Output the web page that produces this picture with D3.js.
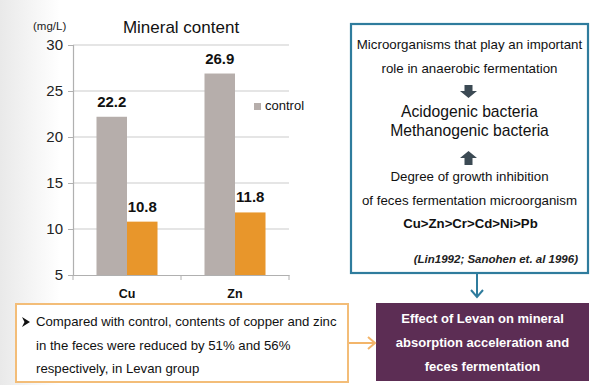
<!DOCTYPE html>
<html lang="en">
<head>
    <meta charset="UTF-8">
    <title>Mineral content</title>
    <script src="https://d3js.org/d3.v7.min.js"></script>
    <style>
        html, body { margin: 0; padding: 0; background: #fff; }
        svg { display: block; font-family: "Liberation Sans", Arial, sans-serif; }
    </style>
</head>
<body>
<svg id="main" width="600" height="385"></svg>

<script>
    // chart data
    const categories = ['Cu', 'Zn'];
    const seriesNames = ['control', 'Levan'];
    const controlValues = [22.2, 26.9];
    const levanValues = [10.8, 11.8];
    const yTicks = [5, 10, 15, 20, 25, 30];

    // side panel texts
    const rightLines = ['Microorganisms that play an important', 'role in anaerobic fermentation'];
    const bacteriaLines = ['Acidogenic bacteria', 'Methanogenic bacteria'];
    const inhibitionLines = ['Degree of growth inhibition', 'of feces fermentation microorganism'];
    const orderText = 'Cu>Zn>Cr>Cd>Ni>Pb';
    const refText = '(Lin1992; Sanohen et. al 1996)';
    const noteLines = ['Compared with control, contents of copper and zinc',
        'in the feces were reduced by 51% and 56%',
        'respectively, in Levan group'];
    const effectLines = ['Effect of Levan on mineral', 'absorption acceleration and', 'feces fermentation'];

    const colors = {control: '#b6aeab', Levan: '#e8962b'};

    let svg = d3.select('svg#main');

    // soft grey edge on the left like the slide background
    let defs = svg.append('defs');
    let grad = defs.append('linearGradient').attr('id', 'bg').attr('x1', 0).attr('x2', 1);
    grad.append('stop').attr('offset', 0).attr('stop-color', '#e9e9e9');
    grad.append('stop').attr('offset', 0.1).attr('stop-color', '#ffffff');
    grad.append('stop').attr('offset', 1).attr('stop-color', '#ffffff');
    svg.append('rect').attr('width', 600).attr('height', 385).attr('fill', 'url(#bg)');

    // scales
    let x = d3.scaleBand().domain(categories).range([73, 289]);
    let x1 = d3.scaleBand().domain(seriesNames).range([0, x.bandwidth()]).paddingOuter(0.77);
    let y = d3.scaleLinear().domain([5, 30]).range([275, 45]);

    // gridlines
    svg.append('g').selectAll('line')
        .data(yTicks.slice(1))
        .enter().append('line')
        .attr('x1', 73).attr('x2', 289)
        .attr('y1', d => y(d)).attr('y2', d => y(d))
        .attr('stroke', '#cbcbcb').attr('stroke-width', 1.2);

    // y axis
    let yAxis = svg.append('g')
        .attr('transform', 'translate(73,0)')
        .call(d3.axisLeft(y).tickValues(yTicks).tickSize(5).tickPadding(5));
    yAxis.select('.domain').attr('stroke', '#b0b0b0').attr('stroke-width', 1.2);
    yAxis.selectAll('.tick line').attr('stroke', '#b0b0b0');
    yAxis.selectAll('.tick text')
        .attr('font-size', 15).attr('fill', '#222')
        .attr('font-family', '"Liberation Sans", Arial, sans-serif');

    // x axis
    let xAxis = svg.append('g')
        .attr('transform', 'translate(0,275)')
        .call(d3.axisBottom(x).tickSize(0).tickFormat(''));
    xAxis.select('.domain').attr('stroke', '#b0b0b0').attr('stroke-width', 1.2);
    // category boundary ticks
    svg.append('g').selectAll('line')
        .data([0, 1, 2])
        .enter().append('line')
        .attr('x1', i => x.range()[0] + i * x.step())
        .attr('x2', i => x.range()[0] + i * x.step())
        .attr('y1', 275).attr('y2', 280)
        .attr('stroke', '#b0b0b0');
    svg.append('g').selectAll('text')
        .data(categories)
        .enter().append('text')
        .attr('x', d => x(d) + x.bandwidth() / 2)
        .attr('y', 298)
        .attr('text-anchor', 'middle')
        .attr('font-size', 12.5).attr('font-weight', 'bold').attr('fill', '#111')
        .text(d => d);

    // bars
    let rows = categories.map((c, i) => ({cat: c, control: controlValues[i], Levan: levanValues[i]}));
    let groups = svg.append('g').selectAll('g')
        .data(rows)
        .enter().append('g')
        .attr('transform', d => 'translate(' + x(d.cat) + ',0)');
    groups.selectAll('rect')
        .data(d => seriesNames.map(s => ({s: s, v: d[s]})))
        .enter().append('rect')
        .attr('x', d => x1(d.s))
        .attr('width', x1.bandwidth())
        .attr('y', d => y(d.v))
        .attr('height', d => y(5) - y(d.v))
        .attr('fill', d => colors[d.s]);
    groups.selectAll('text')
        .data(d => seriesNames.map(s => ({s: s, v: d[s]})))
        .enter().append('text')
        .attr('x', d => x1(d.s) + x1.bandwidth() / 2)
        .attr('y', d => y(d.v) - 10)
        .attr('text-anchor', 'middle')
        .attr('font-size', 15).attr('font-weight', 'bold').attr('fill', '#111')
        .text(d => d.v.toFixed(1));

    // title and unit
    svg.append('text').attr('x', 181).attr('y', 33).attr('text-anchor', 'middle')
        .attr('font-size', 17).attr('fill', '#111').text('Mineral content');
    svg.append('text').attr('x', 33).attr('y', 30)
        .attr('font-size', 11.5).attr('fill', '#222').text('(mg/L)');

    // legend (control only)
    svg.append('rect').attr('x', 254).attr('y', 103).attr('width', 7).attr('height', 7)
        .attr('fill', colors.control);
    svg.append('text').attr('x', 265).attr('y', 110)
        .attr('font-size', 13).attr('fill', '#111').text(seriesNames[0]);

    // right blue box
    svg.append('rect').attr('x', 351).attr('y', 24).attr('width', 237).attr('height', 249)
        .attr('fill', '#fff').attr('stroke', '#2f7c9d').attr('stroke-width', 2.2);

    let cx = 469.5;
    let txt = svg.append('g').attr('text-anchor', 'middle').attr('fill', '#111');
    txt.selectAll('.r1').data(rightLines).enter().append('text')
        .attr('x', cx).attr('y', (d, i) => 49 + i * 24)
        .attr('font-size', 13.3).text(d => d);
    txt.selectAll('.r2').data(bacteriaLines).enter().append('text')
        .attr('x', cx).attr('y', (d, i) => 117 + i * 18.5)
        .attr('font-size', 15.7).text(d => d);
    txt.selectAll('.r3').data(inhibitionLines).enter().append('text')
        .attr('x', cx).attr('y', (d, i) => 181 + i * 24)
        .attr('font-size', 13.3).text(d => d);
    txt.append('text').attr('x', cx + 1).attr('y', 228)
        .attr('font-size', 13.2).attr('font-weight', 'bold').text(orderText);
    svg.append('text').attr('x', 578).attr('y', 263).attr('text-anchor', 'end')
        .attr('font-size', 11.5).attr('font-weight', 'bold').attr('font-style', 'italic')
        .attr('fill', '#222').text(refText);

    // block arrows
    function blockArrow(xc, yTail, yTip) {
        let dir = yTip > yTail ? 1 : -1;
        let headStart = yTip - dir * 7;
        let p = [[xc - 4, yTail], [xc + 4, yTail], [xc + 4, headStart], [xc + 8.5, headStart],
            [xc, yTip], [xc - 8.5, headStart], [xc - 4, headStart]];
        svg.append('path').attr('d', d3.line()(p) + 'Z').attr('fill', '#3c4a54');
    }
    blockArrow(468.5, 85, 98);
    blockArrow(468.5, 165, 151);

    // blue connector arrow
    svg.append('line').attr('x1', 477).attr('x2', 477).attr('y1', 273).attr('y2', 296)
        .attr('stroke', '#2f7c9d').attr('stroke-width', 2);
    svg.append('path').attr('d', 'M471,290 L477,297 L483,290')
        .attr('fill', 'none').attr('stroke', '#2f7c9d').attr('stroke-width', 2);

    // purple box
    svg.append('rect').attr('x', 376).attr('y', 303).attr('width', 213).attr('height', 78)
        .attr('fill', '#5c2d54');
    svg.append('g').selectAll('text').data(effectLines).enter().append('text')
        .attr('x', 482.5).attr('y', (d, i) => 323 + i * 24)
        .attr('text-anchor', 'middle').attr('font-size', 13).attr('font-weight', 'bold')
        .attr('fill', '#fff').text(d => d);

    // orange note box
    svg.append('rect').attr('x', 16).attr('y', 304).attr('width', 332).attr('height', 78)
        .attr('fill', '#fff').attr('stroke', '#f3bd78').attr('stroke-width', 2);
    // bullet arrowhead
    svg.append('path').attr('d', 'M22,317 L30,322 L22,327 L24.5,322 Z').attr('fill', '#111');
    svg.append('g').selectAll('text').data(noteLines).enter().append('text')
        .attr('x', 36).attr('y', (d, i) => [326, 349.5, 373][i])
        .attr('font-size', 13.2).attr('fill', '#111').text(d => d);

    // orange connector arrow
    svg.append('line').attr('x1', 349).attr('x2', 374).attr('y1', 343).attr('y2', 343)
        .attr('stroke', '#f3b56a').attr('stroke-width', 2);
    svg.append('path').attr('d', 'M368,337 L375,343 L368,349')
        .attr('fill', 'none').attr('stroke', '#f3b56a').attr('stroke-width', 2);
</script>
</body>
</html>
